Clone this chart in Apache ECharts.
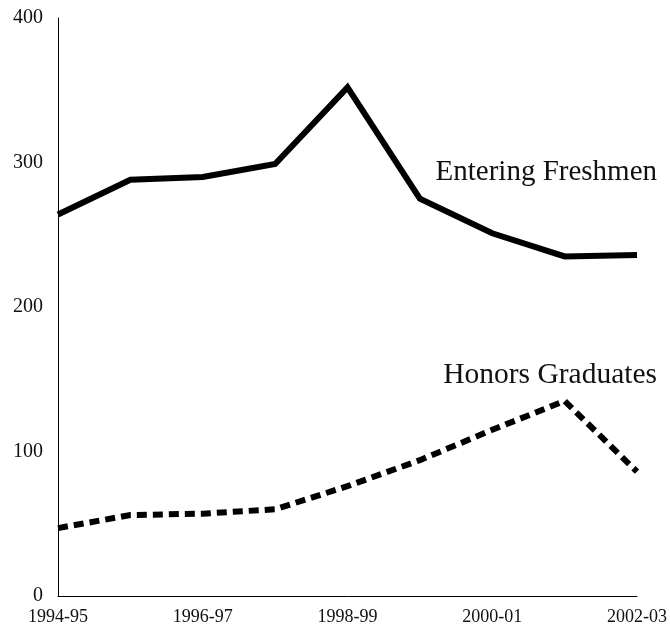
<!DOCTYPE html>
<html>
<head>
<meta charset="utf-8">
<script src="https://cdn.jsdelivr.net/npm/echarts@6/dist/echarts.min.js"></script>
<style>
  html, body { margin: 0; padding: 0; background: #fff; }
  #chart { width: 670px; height: 630px; }
</style>
</head>
<body>
<div id="chart"></div>
<script>
// School years on the horizontal axis
const years = ['1994-95', '1995-96', '1996-97', '1997-98', '1998-99',
               '1999-00', '2000-01', '2001-02', '2002-03'];

// Counts per year
const enteringFreshmen = [264, 288, 290, 299, 352, 275, 251, 235, 236];
const honorsGraduates  = [47, 56, 57, 60, 76, 94, 115, 135, 86];

// Series names, drawn as text beside each line
const freshmenName = 'Entering Freshmen';
const honorsName = 'Honors Graduates';

const serif = '"Liberation Serif", "Times New Roman", serif';

const chart = echarts.init(document.getElementById('chart'));
chart.setOption({
  animation: false,
  backgroundColor: '#ffffff',
  textStyle: { fontFamily: serif, color: '#111' },
  grid: { left: 58, right: 32, top: 18, bottom: 34, containLabel: false },
  xAxis: {
    type: 'category',
    data: years,
    boundaryGap: false,
    axisLine: { lineStyle: { color: '#000', width: 1 } },
    axisTick: { show: false },
    axisLabel: {
      interval: 1,
      margin: 12,
      fontFamily: serif,
      fontSize: 18,
      color: '#111'
    },
    splitLine: { show: false }
  },
  yAxis: {
    type: 'value',
    min: 0,
    max: 400,
    interval: 100,
    axisLine: { show: true, lineStyle: { color: '#000', width: 1 } },
    axisTick: { show: false },
    axisLabel: {
      margin: 15,
      fontFamily: serif,
      fontSize: 20,
      color: '#111'
    },
    splitLine: { show: false }
  },
  series: [
    {
      name: freshmenName,
      type: 'line',
      data: enteringFreshmen,
      symbol: 'none',
      lineStyle: { color: '#000', width: 6, type: 'solid', join: 'miter' }
    },
    {
      name: honorsName,
      type: 'line',
      data: honorsGraduates,
      symbol: 'none',
      lineStyle: { color: '#000', width: 6, type: [10, 6], cap: 'butt', join: 'miter' }
    }
  ],
  graphic: [
    {
      type: 'text',
      right: 13,
      top: 158,
      style: {
        text: freshmenName,
        font: '29px ' + serif,
        fill: '#111'
      }
    },
    {
      type: 'text',
      right: 13,
      top: 360,
      style: {
        text: honorsName,
        font: '29.5px ' + serif,
        fill: '#111'
      }
    }
  ]
});
</script>
</body>
</html>
